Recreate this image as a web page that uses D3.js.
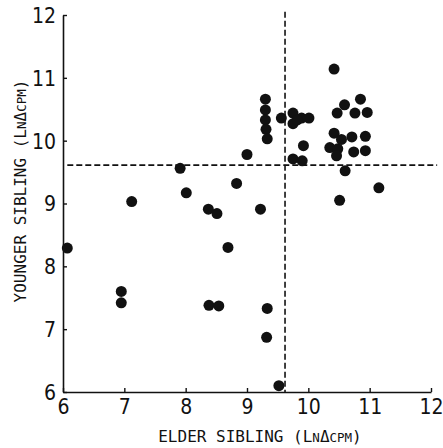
<!DOCTYPE html>
<html lang="en">
<head>
  <meta charset="UTF-8" />
  <title>Sibling scatter</title>
  <script src="https://d3js.org/d3.v7.min.js"></script>
  <style>
    body { margin: 0; background: #fff; }
    .tick-label { font: 21px "Liberation Sans Narrow", "DejaVu Sans Condensed", "DejaVu Sans Mono", monospace; fill: #111; }
    .axis-title { font: 16px "DejaVu Sans Mono", monospace; fill: #111; }
    .ref-line { fill: none; stroke: #111; stroke-width: 1.6px; stroke-dasharray: 6 3; }
  </style>
</head>
<body>
<svg width="443" height="448"></svg>

<script>
// elder sibling (x) and younger sibling (y), ln delta-cpm
const elder = [
  6.07, 6.95, 6.95, 7.12, 7.91, 8.01, 8.37, 8.51, 8.69, 8.83,
  9.00, 8.38, 8.54, 9.22, 9.30, 9.30, 9.30, 9.31, 9.33, 9.33,
  9.32, 9.52, 9.56, 9.75, 9.75, 9.89, 10.01, 9.92, 9.75, 9.90,
  10.42, 10.47, 10.59, 10.42, 10.35, 10.48, 10.46, 10.54, 10.60, 10.51,
  10.71, 10.74, 10.76, 10.85, 10.96, 10.93, 10.93, 11.15, 9.82
];
const younger = [
  8.29, 7.60, 7.42, 9.03, 9.56, 9.17, 8.91, 8.84, 8.30, 9.32,
  9.78, 7.38, 7.37, 8.91, 10.66, 10.49, 10.33, 10.18, 10.03, 7.33,
  6.87, 6.10, 10.36, 10.44, 10.27, 10.36, 10.36, 9.92, 9.71, 9.68,
  11.14, 10.44, 10.57, 10.12, 9.89, 9.87, 9.76, 10.02, 9.52, 9.05,
  10.06, 9.82, 10.44, 10.66, 10.45, 10.07, 9.84, 9.25, 10.33
];
const xTicks = [6, 7, 8, 9, 10, 11, 12];
const yTicks = [6, 7, 8, 9, 10, 11, 12];
const cutX = 9.62, cutY = 9.61;

const svg = d3.select("svg");
const margin = { top: 15, left: 63 };
const w = 368, h = 377;
const g = svg.append("g").attr("transform", `translate(${margin.left},${margin.top})`);

const x = d3.scaleLinear().domain([6, 12]).range([0, w]);
const y = d3.scaleLinear().domain([6, 12]).range([h, 0]);

// axes: ticks point inward
const xAxis = g.append("g").attr("transform", `translate(0,${h})`)
  .call(d3.axisBottom(x).tickValues(xTicks).tickFormat(d3.format("d"))
    .tickSizeInner(-4).tickSizeOuter(0).tickPadding(6));
const yAxis = g.append("g")
  .call(d3.axisLeft(y).tickValues(yTicks).tickFormat(d3.format("d"))
    .tickSizeInner(-4).tickSizeOuter(0).tickPadding(7));

[xAxis, yAxis].forEach(a => {
  a.select(".domain").attr("stroke", "#111").attr("stroke-width", 1.6);
  a.selectAll(".tick line").attr("stroke", "#111").attr("stroke-width", 1.4);
  a.selectAll(".tick text").attr("class", "tick-label").attr("font-size", null).attr("font-family", null);
});
xAxis.selectAll(".tick text").attr("dy", "0.75em");
yAxis.selectAll(".tick text").attr("dy", "0.35em");

// dashed cut lines
g.append("line").attr("class", "ref-line")
  .attr("x1", x(cutX)).attr("x2", x(cutX))
  .attr("y1", y(12.05)).attr("y2", y(6));
g.append("line").attr("class", "ref-line")
  .attr("x1", x(6.07)).attr("x2", x(12.1))
  .attr("y1", y(cutY)).attr("y2", y(cutY));

// points
g.selectAll(".dot")
  .data(d3.zip(elder, younger))
  .enter().append("circle")
  .attr("class", "dot")
  .attr("cx", d => x(d[0]))
  .attr("cy", d => y(d[1]))
  .attr("r", 5.5)
  .attr("fill", "#111");

// axis titles
svg.append("text").attr("class", "axis-title")
  .attr("x", 260).attr("y", 442).attr("text-anchor", "middle")
  .html('ELDER SIBLING (L<tspan font-size="12.5px">N</tspan>\u0394<tspan font-size="12.5px">CPM</tspan>)');
svg.append("text").attr("class", "axis-title")
  .attr("transform", "translate(26,191) rotate(-90)").attr("text-anchor", "middle")
  .html('YOUNGER SIBLING (L<tspan font-size="12.5px">N</tspan>\u0394<tspan font-size="12.5px">CPM</tspan>)');
</script>
</body>
</html>
